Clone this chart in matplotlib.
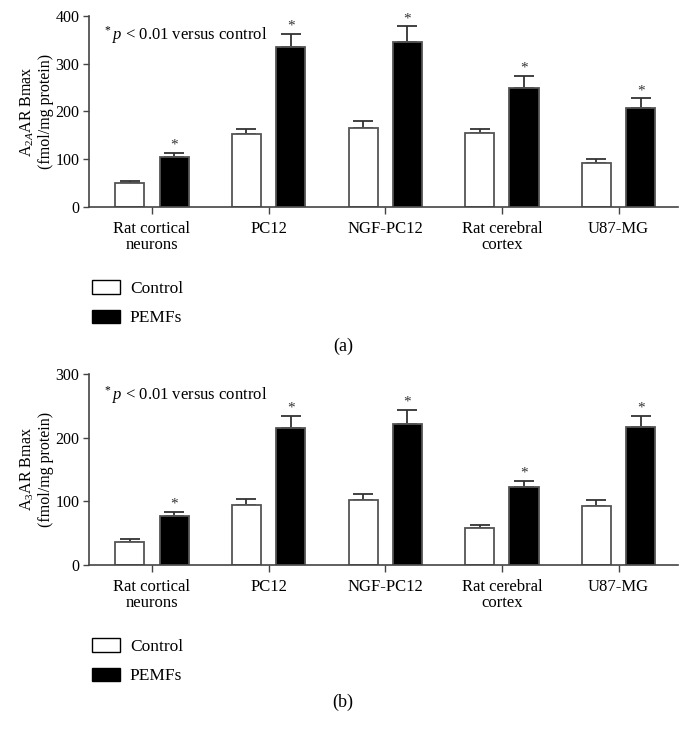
import matplotlib
matplotlib.use("Agg")
import matplotlib.pyplot as plt
import matplotlib.patches as mpatches
import numpy as np

plt.rcParams['font.family'] = ['Liberation Serif', 'DejaVu Serif']
plt.rcParams['mathtext.fontset'] = 'custom'
plt.rcParams['mathtext.rm'] = 'Liberation Serif'
plt.rcParams['mathtext.it'] = 'Liberation Serif:italic'

categories = ["Rat cortical\nneurons", "PC12", "NGF-PC12", "Rat cerebral\ncortex", "U87-MG"]
series_names = ["Control", "PEMFs"]

a_control = [50, 152, 165, 154, 91]
a_control_err = [4, 12, 14, 9, 9]
a_pemf = [105, 336, 345, 250, 208]
a_pemf_err = [7, 26, 33, 25, 19]

b_control = [36, 94, 102, 58, 93]
b_control_err = [4, 9, 9, 5, 8]
b_pemf = [77, 215, 222, 122, 216]
b_pemf_err = [6, 19, 21, 10, 18]

fig = plt.figure(figsize=(6.89, 7.35), dpi=100)

W, H = 689, 735
def fig_rect(l, r, top, bot):
    return [l / W, 1 - bot / H, (r - l) / W, (bot - top) / H]

panels = [
    dict(rect=fig_rect(89, 678, 16, 206.7), ctrl=a_control, ce=a_control_err, pemf=a_pemf, pe=a_pemf_err,
         ymax=400, yticks=[0, 100, 200, 300, 400], ylabel="A$_{2A}$AR Bmax\n(fmol/mg protein)",
         leg_y=277, tag="(a)", tag_y=346, ann_y=35),
    dict(rect=fig_rect(89, 678, 374, 564.7), ctrl=b_control, ce=b_control_err, pemf=b_pemf, pe=b_pemf_err,
         ymax=300, yticks=[0, 100, 200, 300], ylabel="A$_{3}$AR Bmax\n(fmol/mg protein)",
         leg_y=635, tag="(b)", tag_y=702, ann_y=395),
]

edge = '#555555'
fs = 12
x = np.arange(len(categories))
bw = 0.25
off = 0.19

for p in panels:
    ax = fig.add_axes(p['rect'])
    ax.bar(x - off, p['ctrl'], bw, color='white', edgecolor=edge, linewidth=1.3, zorder=2)
    ax.bar(x + off, p['pemf'], bw, color='black', edgecolor=edge, linewidth=1.3, zorder=2)
    ax.errorbar(x - off, p['ctrl'], yerr=[np.zeros(len(x)), p['ce']], fmt='none', ecolor='#333333',
                elinewidth=1.3, capsize=7, capthick=1.3, zorder=1)
    ax.errorbar(x + off, p['pemf'], yerr=[np.zeros(len(x)), p['pe']], fmt='none', ecolor='#333333',
                elinewidth=1.3, capsize=7, capthick=1.3, zorder=1)
    for xi, v, e in zip(x + off, p['pemf'], p['pe']):
        ax.annotate('*', (xi, v + e), xytext=(0, 1), textcoords='offset points', ha='center', va='bottom',
                    fontsize=11, color='#333333')
    ax.set_xlim(-0.54, 4.51)
    ax.set_ylim(0, p['ymax'])
    ax.set_yticks(p['yticks'])
    ax.set_xticks(x)
    ax.set_xticklabels(categories, fontsize=fs, linespacing=1.05)
    ax.tick_params(axis='y', labelsize=11.5, length=4, width=1, color='#444444', pad=3)
    ax.tick_params(axis='x', length=5, width=1, color='#444444', pad=5)
    for s in ['top', 'right']:
        ax.spines[s].set_visible(False)
    for s in ['left', 'bottom']:
        ax.spines[s].set_color('#444444')
        ax.spines[s].set_linewidth(1.2)
    ax.set_ylabel(p['ylabel'], fontsize=11.5, linespacing=1.12, labelpad=1)
    fig.text(103 / W, 1 - p['ann_y'] / H, r"$^*$$\it{p}$ < 0.01 versus control", fontsize=12,
             ha='left', va='center')
    handles = [mpatches.Patch(facecolor='white', edgecolor='black', linewidth=1.0),
               mpatches.Patch(facecolor='black', edgecolor='black', linewidth=1.0)]
    fig.legend(handles, series_names, loc='upper left', bbox_to_anchor=(89 / W, 1 - p['leg_y'] / H),
               frameon=False, fontsize=12.5, handlelength=1.6, handleheight=0.8, labelspacing=0.72,
               handletextpad=0.55, borderaxespad=0, borderpad=0.2)
    fig.text(343 / W, 1 - p['tag_y'] / H, p['tag'], fontsize=13, ha='center', va='center')

fig.savefig('out.png', dpi=100)
